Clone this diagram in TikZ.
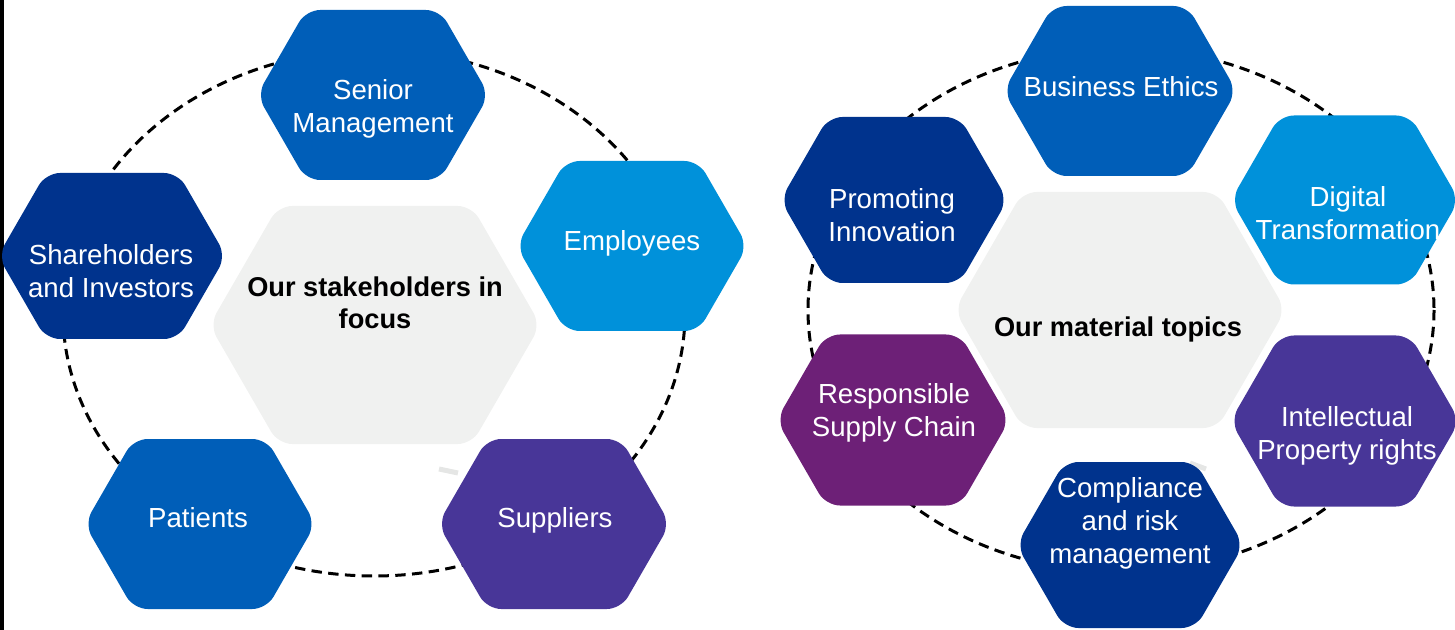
\documentclass[tikz,border=0pt]{standalone}
\usepackage{fontspec}
\setmainfont{Liberation Sans}
\definecolor{kblue}{HTML}{00338D}
\definecolor{kmed}{HTML}{005EB8}
\definecolor{klight}{HTML}{0091DA}
\definecolor{kviolet}{HTML}{483698}
\definecolor{kpurple}{HTML}{6D2077}
\definecolor{kgrey}{HTML}{F0F1F0}
\newcommand{\tl}{\rule[-3pt]{0pt}{15.8pt}}
% hexagon: name, cx, cy, W, H, colour
\newcommand{\hexa}[6]{%
  \fill[#6, rounded corners=7pt]
    ({#2-#4/2-3},{#3}) coordinate (#1-w)
    -- ({#2-#4/2+#5*0.2887-3},{#3-#5/2})
    -- ({#2+#4/2-#5*0.2887+3},{#3-#5/2})
    -- ({#2+#4/2+3},{#3}) coordinate (#1-e)
    -- ({#2+#4/2-#5*0.2887+3},{#3+#5/2})
    -- ({#2-#4/2+#5*0.2887-3},{#3+#5/2}) -- cycle;
  \coordinate (#1) at (#2,#3);}
\tikzset{
  lbl/.style={text=white, align=center, inner sep=0pt, font=\fontsize{13.8pt}{16.5pt}\selectfont},
  ctr/.style={text=black, align=center, inner sep=0pt, font=\fontsize{13.6pt}{16pt}\selectfont\bfseries},
  ring/.style={dash pattern=on 5.2pt off 3.2pt, line width=1.5pt, black},
  stub/.style={line width=2.5pt, kgrey!90!gray}
}
\begin{document}
\begin{tikzpicture}[x=0.5pt,y=-0.5pt]
\useasboundingbox (0,0) rectangle (1455,630);
\clip (0,0) rectangle (1455,630);
\fill[black] (0,0) rectangle (4,630);
% ---------- left group ----------
\draw[ring] (374,313) ellipse [x radius=311, y radius=263];
\hexa{lc}{375}{325}{325}{238}{kgrey}
\coordinate (ls1) at (439,469);
\coordinate (ls2) at (458,473);
\draw[stub] (ls1) -- (ls2);
\hexa{sm}{373}{95}{226}{170}{kmed}
\hexa{sh}{112}{256}{222}{166}{kblue}
\hexa{em}{632}{246}{225}{170}{klight}
\hexa{pa}{200}{524}{225}{170}{kmed}
\hexa{su}{554}{524}{226}{170}{kviolet}
\node[lbl] (tsm) at (373,106.5) {\tl Senior\\ Management\tl};
\node[lbl] (tsh) at (111,271) {\tl Shareholders\\ and Investors\tl};
\node[lbl] (tem) at (632,241) {\tl Employees\tl};
\node[lbl] (tpa) at (198,518) {\tl Patients\tl};
\node[lbl] (tsu) at (555,518) {\tl Suppliers\tl};
\node[ctr] (tlc) at (375,302.5) {\tl Our stakeholders in\\ focus\tl};
% ---------- right group ----------
\draw[ring] (1121,310) ellipse [x radius=313, y radius=262];
\hexa{rc}{1120}{310}{325}{236}{kgrey}
\coordinate (rs1) at (1190,463);
\coordinate (rs2) at (1206,469);
\draw[stub] (rs1) -- (rs2);
\hexa{be}{1120}{91}{227}{170}{kmed}
\hexa{pi}{894}{200}{221}{166}{kblue}
\hexa{dt}{1345}{200}{222}{169}{klight}
\hexa{rs}{893}{420}{227}{171}{kpurple}
\hexa{ip}{1345}{421}{223}{171}{kviolet}
\hexa{cr}{1130}{545}{221}{166}{kblue}
\node[lbl] (tbe) at (1121,87) {\tl Business Ethics\tl};
\node[lbl] (tpi) at (892,215) {\tl Promoting\\ Innovation\tl};
\node[lbl] (tdt) at (1348,213) {\tl Digital\\ Transformation\tl};
\node[lbl] (trs) at (894,410) {\tl Responsible\\ Supply Chain\tl};
\node[lbl] (tip) at (1347,433) {\tl Intellectual\\ Property rights\tl};
\node[lbl] (tcr) at (1130,521) {\tl Compliance\\ and risk\\ management\tl};
\node[ctr] (trc) at (1118,327) {\tl Our material topics\tl};
\end{tikzpicture}
\end{document}
